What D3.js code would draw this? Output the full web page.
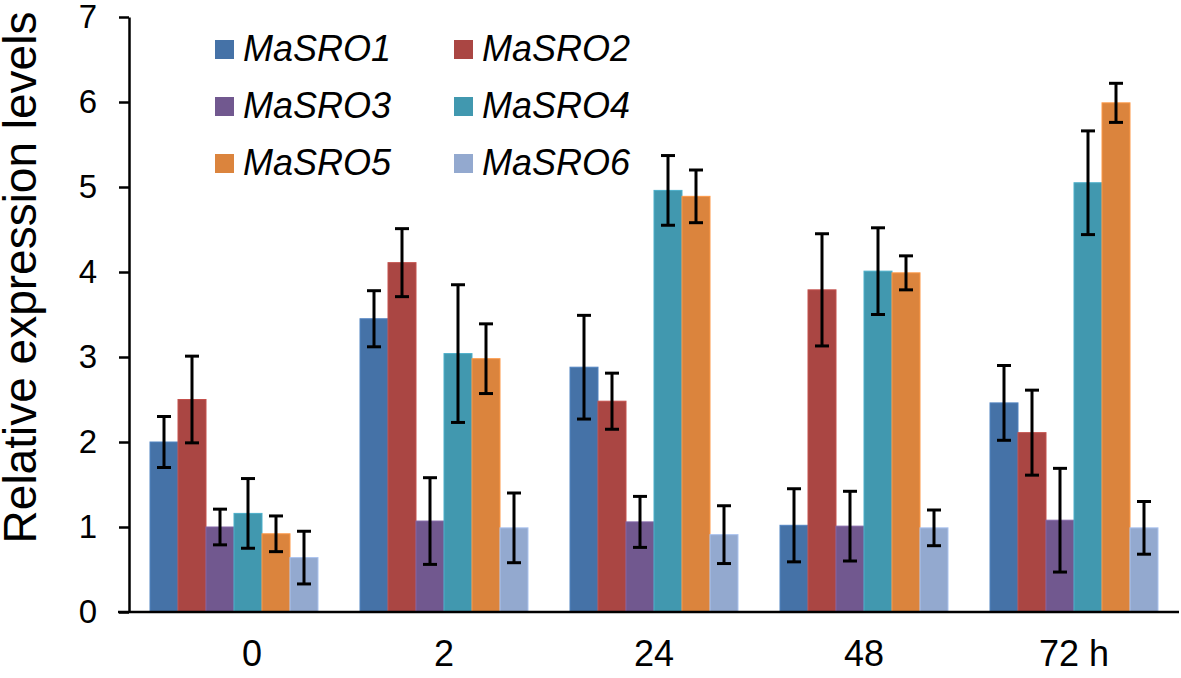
<!DOCTYPE html>
<html>
<head>
<meta charset="utf-8">
<script src="https://cdn.jsdelivr.net/npm/d3@7"></script>
<style>
  html, body { margin: 0; padding: 0; background: #ffffff; }
  svg { display: block; font-family: "Liberation Sans", Arial, sans-serif; }
</style>
</head>
<body>
<svg id="chart" width="1181" height="678"></svg>
<script>
// ---- data ----
const categories = ["0", "2", "24", "48", "72 h"];
const seriesNames = ["MaSRO1", "MaSRO2", "MaSRO3", "MaSRO4", "MaSRO5", "MaSRO6"];
const seriesColors = ["#4572A7", "#AA4643", "#71588F", "#4198AF", "#DB843D", "#93A9CF"];
const MaSRO1 = [2.00, 3.45, 2.88, 1.02, 2.46];
const MaSRO2 = [2.50, 4.11, 2.48, 3.79, 2.11];
const MaSRO3 = [1.00, 1.07, 1.06, 1.01, 1.08];
const MaSRO4 = [1.16, 3.04, 4.96, 4.01, 5.05];
const MaSRO5 = [0.92, 2.98, 4.89, 3.99, 5.99];
const MaSRO6 = [0.64, 0.99, 0.91, 0.99, 0.99];
const err1 = [0.30, 0.33, 0.61, 0.43, 0.44];
const err2 = [0.51, 0.40, 0.33, 0.66, 0.50];
const err3 = [0.21, 0.51, 0.30, 0.41, 0.61];
const err4 = [0.41, 0.81, 0.41, 0.51, 0.61];
const err5 = [0.21, 0.41, 0.31, 0.20, 0.23];
const err6 = [0.31, 0.41, 0.34, 0.21, 0.31];
const yTicks = [0, 1, 2, 3, 4, 5, 6, 7];
const yTitle = "Relative expression levels";

const values = [MaSRO1, MaSRO2, MaSRO3, MaSRO4, MaSRO5, MaSRO6];
const errors = [err1, err2, err3, err4, err5, err6];

// ---- layout ----
const svg = d3.select("#chart");
const mLeft = 129, mRight = 1179, mTop = 17, mBottom = 612;

const x0 = d3.scaleBand().domain(categories).range([mLeft, mRight]).paddingInner(0.2).paddingOuter(0.1);
const x1 = d3.scaleBand().domain(seriesNames).range([0, x0.bandwidth()]).padding(0);
const y = d3.scaleLinear().domain([0, 7]).range([mBottom, mTop]);

// bars
const rows = [];
categories.forEach((c, ci) => {
  seriesNames.forEach((s, si) => {
    rows.push({ cat: c, series: s, si, v: values[si][ci], e: errors[si][ci] });
  });
});

svg.append("g").selectAll("rect").data(rows).join("rect")
  .attr("x", d => x0(d.cat) + x1(d.series))
  .attr("y", d => y(d.v))
  .attr("width", x1.bandwidth())
  .attr("height", d => y(0) - y(d.v))
  .attr("fill", d => seriesColors[d.si])
  .attr("stroke", d => d3.color(seriesColors[d.si]).brighter(0.4))
  .attr("stroke-width", 1);

// error bars
const eb = svg.append("g").attr("stroke", "#000").attr("stroke-width", 3);
const cap = 7;
rows.forEach(d => {
  const cx = x0(d.cat) + x1(d.series) + x1.bandwidth() / 2;
  const y1 = y(d.v + d.e), y2 = y(d.v - d.e);
  eb.append("line").attr("x1", cx).attr("x2", cx).attr("y1", y1).attr("y2", y2);
  eb.append("line").attr("x1", cx - cap).attr("x2", cx + cap).attr("y1", y1).attr("y2", y1);
  eb.append("line").attr("x1", cx - cap).attr("x2", cx + cap).attr("y1", y2).attr("y2", y2);
});

// y axis
const yAxis = svg.append("g")
  .attr("transform", `translate(${mLeft},0)`)
  .call(d3.axisLeft(y).tickValues(yTicks).tickFormat(d3.format("d")).tickSize(10).tickSizeOuter(0).tickPadding(22));
yAxis.select(".domain").attr("stroke", "#000").attr("stroke-width", 2.5);
yAxis.selectAll(".tick line").attr("stroke", "#000").attr("stroke-width", 2.5);
yAxis.selectAll("text").attr("font-size", 33).attr("fill", "#000").attr("font-family", "Liberation Sans, Arial, sans-serif");

// x axis
const xAxis = svg.append("g")
  .attr("transform", `translate(0,${mBottom})`)
  .call(d3.axisBottom(x0).tickSize(0).tickSizeOuter(0).tickPadding(28));
xAxis.select(".domain").attr("stroke", "#000").attr("stroke-width", 2.5)
  .attr("d", `M${mLeft - 11},0H${mRight}`);
xAxis.selectAll("text").attr("font-size", 36).attr("fill", "#000").attr("font-family", "Liberation Sans, Arial, sans-serif")
  .attr("dx", (d, i) => i === 0 ? 18 : 0);

// y title
svg.append("text")
  .attr("transform", `translate(36,${(mTop + mBottom) / 2 - 37}) rotate(-90)`)
  .attr("text-anchor", "middle")
  .attr("font-size", 46)
  .attr("fill", "#000")
  .text(yTitle);

// legend
const legend = svg.append("g");
seriesNames.forEach((s, i) => {
  const col = i % 2, row = Math.floor(i / 2);
  const gx = 215 + col * 239, gy = 40 + row * 57;
  legend.append("rect").attr("x", gx).attr("y", gy).attr("width", 19).attr("height", 19)
    .attr("fill", seriesColors[i]);
  legend.append("text").attr("x", gx + 28).attr("y", gy + 21)
    .attr("font-size", 36).attr("font-style", "italic").attr("fill", "#000")
    .text(s);
});
</script>
</body>
</html>
